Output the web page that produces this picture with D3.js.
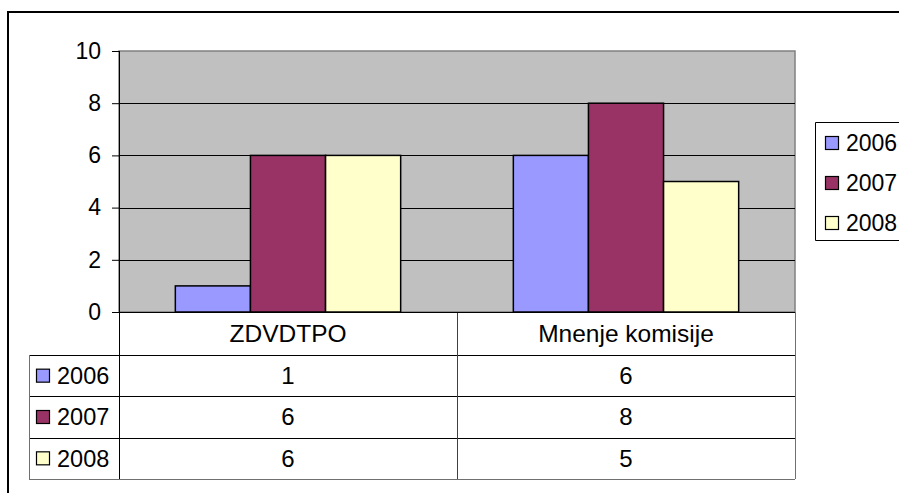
<!DOCTYPE html>
<html>
<head>
<meta charset="utf-8">
<script src="https://cdn.jsdelivr.net/npm/d3@7"></script>
<style>
	html, body { margin: 0; background: #fff; overflow: hidden; }
	svg { display: block; }
	text { font-family: 'Liberation Sans', Arial, sans-serif; fill: #000; }
</style>
</head>
<body>
<script>
// data
var categories = ['ZDVDTPO', 'Mnenje komisije'];
var years = ['2006', '2007', '2008'];
var values2006 = [1, 6];
var values2007 = [6, 8];
var values2008 = [6, 5];
var yTicks = [0, 2, 4, 6, 8, 10];

var seriesValues = [values2006, values2007, values2008];
var colors = ['#9999ff', '#993366', '#ffffcc'];

var width = 899,
	height = 493;

// plot area
var plot = { left: 119, right: 795, top: 51, bottom: 312 };
var tableBottom = 479,
	tableLeft = 29;

var svg = d3.select('body').append('svg')
	.attr('width', width)
	.attr('height', height);

// outer chart border, only left and top are in view
svg.append('path')
	.attr('d', 'M8,' + (height + 20) + 'V12H' + (width + 20))
	.style('fill', 'none')
	.style('stroke', '#000')
	.style('stroke-width', 2);

// scales
var x = d3.scaleBand()
	.domain(categories)
	.range([plot.left, plot.right])
	.padding(0);

var x1 = d3.scaleBand()
	.domain(years)
	.range([0, x.bandwidth()])
	.paddingInner(0)
	.paddingOuter(0.75);

var y = d3.scaleLinear()
	.domain([0, 10])
	.range([plot.bottom, plot.top]);

var color = d3.scaleOrdinal()
	.domain(years)
	.range(colors);

// background of plot
svg.append('rect')
	.attr('x', plot.left)
	.attr('y', plot.top)
	.attr('width', plot.right - plot.left)
	.attr('height', plot.bottom - plot.top)
	.style('fill', '#c0c0c0')
	.style('stroke', '#808080')
	.style('stroke-width', 1.5);

// gridlines
svg.append('g')
	.selectAll('line')
	.data(yTicks.filter(function(d) { return d > 0 && d < 10; }))
	.enter().append('line')
	.attr('x1', plot.left)
	.attr('x2', plot.right)
	.attr('y1', function(d) { return Math.round(y(d)) + 0.5; })
	.attr('y2', function(d) { return Math.round(y(d)) + 0.5; })
	.style('stroke', '#000')
	.style('stroke-width', 1);

// bars
var bars = [];
years.forEach(function(yr, i) {
	categories.forEach(function(cat, j) {
		bars.push({ year: yr, cat: cat, value: seriesValues[i][j] });
	});
});

svg.append('g')
	.selectAll('rect')
	.data(bars)
	.enter().append('rect')
	.attr('x', function(d) { return x(d.cat) + x1(d.year); })
	.attr('y', function(d) { return y(d.value); })
	.attr('width', x1.bandwidth())
	.attr('height', function(d) { return y(0) - y(d.value); })
	.style('fill', function(d) { return color(d.year); })
	.style('stroke', '#000')
	.style('stroke-width', 1.5);

// y axis
var yAxis = svg.append('g')
	.attr('transform', 'translate(' + plot.left + ',0)')
	.call(d3.axisLeft(y)
		.tickValues(yTicks)
		.tickSize(7)
		.tickPadding(11));
yAxis.select('.domain').remove();
yAxis.selectAll('line').style('stroke', '#000');
yAxis.selectAll('text')
	.style('font-family', "'Liberation Sans', Arial, sans-serif")
	.style('font-size', '23px')
	.style('fill', '#000');

// data table
var rows = d3.scaleBand()
	.domain(years)
	.range([355, tableBottom]);

var cols = x;

// horizontal lines of the table
svg.append('g')
	.selectAll('line')
	.data(years)
	.enter().append('line')
	.attr('x1', tableLeft)
	.attr('x2', plot.right)
	.attr('y1', function(d) { return Math.round(rows(d)) + 0.5; })
	.attr('y2', function(d) { return Math.round(rows(d)) + 0.5; })
	.style('stroke', '#000');

svg.append('line')
	.attr('x1', tableLeft)
	.attr('x2', plot.right)
	.attr('y1', tableBottom + 0.5)
	.attr('y2', tableBottom + 0.5)
	.style('stroke', '#707070');

// vertical lines of the table
svg.append('line')
	.attr('x1', tableLeft + 0.5)
	.attr('x2', tableLeft + 0.5)
	.attr('y1', rows.range()[0])
	.attr('y2', tableBottom)
	.style('stroke', '#707070');

svg.append('line')
	.attr('x1', plot.left + 0.5)
	.attr('x2', plot.left + 0.5)
	.attr('y1', plot.top)
	.attr('y2', tableBottom)
	.style('stroke', '#000');

svg.append('g')
	.selectAll('line')
	.data(categories)
	.enter().append('line')
	.attr('x1', function(d) { return Math.round(cols(d) + cols.bandwidth()) + 0.5; })
	.attr('x2', function(d) { return Math.round(cols(d) + cols.bandwidth()) + 0.5; })
	.attr('y1', plot.bottom)
	.attr('y2', tableBottom)
	.style('stroke', function(d, i) { return i === categories.length - 1 ? '#707070' : '#404040'; });

// x axis line
svg.append('line')
	.attr('x1', plot.left - 7)
	.attr('x2', plot.right)
	.attr('y1', plot.bottom + 0.5)
	.attr('y2', plot.bottom + 0.5)
	.style('stroke', '#000');

// category headers
svg.append('g')
	.selectAll('text')
	.data(categories)
	.enter().append('text')
	.attr('x', function(d) { return cols(d) + cols.bandwidth() / 2; })
	.attr('y', (plot.bottom + rows.range()[0]) / 2)
	.attr('dy', '0.35em')
	.attr('text-anchor', 'middle')
	.style('font-size', '24.5px')
	.text(function(d) { return d; });

// table values
var cells = [];
years.forEach(function(yr, i) {
	categories.forEach(function(cat, j) {
		cells.push({ year: yr, cat: cat, value: seriesValues[i][j] });
	});
});

svg.append('g')
	.selectAll('text')
	.data(cells)
	.enter().append('text')
	.attr('x', function(d) { return cols(d.cat) + cols.bandwidth() / 2; })
	.attr('y', function(d) { return rows(d.year) + rows.bandwidth() / 2; })
	.attr('dy', '0.35em')
	.attr('text-anchor', 'middle')
	.style('font-size', '24px')
	.text(function(d) { return d.value; });

// legend keys inside table
var tableKeys = svg.append('g')
	.selectAll('g')
	.data(years)
	.enter().append('g')
	.attr('transform', function(d) {
		return 'translate(36,' + (rows(d) + rows.bandwidth() / 2) + ')';
	});

tableKeys.append('rect')
	.attr('x', 0.5)
	.attr('y', -6.5)
	.attr('width', 13)
	.attr('height', 13)
	.style('fill', function(d) { return color(d); })
	.style('stroke', '#000')
	.style('stroke-width', 1.2);

tableKeys.append('text')
	.attr('x', 21)
	.attr('dy', '0.35em')
	.style('font-size', '23.5px')
	.text(function(d) { return d; });

// legend on the right (box runs off the page)
svg.append('path')
	.attr('d', 'M' + (width + 20) + ',122.5H815.5V240.5H' + (width + 20))
	.style('fill', '#fff')
	.style('stroke', '#000');

var legend = svg.append('g')
	.selectAll('g')
	.data(years)
	.enter().append('g')
	.attr('transform', function(d, i) {
		return 'translate(825,' + (143 + i * 40) + ')';
	});

legend.append('rect')
	.attr('x', 0.5)
	.attr('y', -6.5)
	.attr('width', 13)
	.attr('height', 13)
	.style('fill', function(d) { return color(d); })
	.style('stroke', '#000')
	.style('stroke-width', 1.2);

legend.append('text')
	.attr('x', 21)
	.attr('dy', '0.35em')
	.style('font-size', '23px')
	.text(function(d) { return d; });
</script>
</body>
</html>
